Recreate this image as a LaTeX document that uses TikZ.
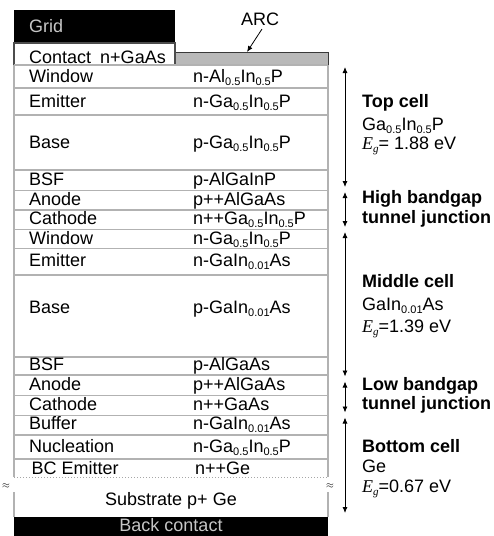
\documentclass[tikz,border=0pt]{standalone}
\usepackage{fontspec}
\setmainfont{Liberation Sans}
\newfontfamily\egfont{Liberation Serif}
\usetikzlibrary{arrows.meta}

% subscript in the running sans font
\newcommand\sbs[1]{\raisebox{-3.2pt}{\fontsize{11}{11}\selectfont #1}}
% band-gap symbol, serif italic E with subscript g
\newcommand\Eg{{\egfont\itshape E\raisebox{-3.2pt}{\fontsize{11}{11}\selectfont g}}}

\begin{document}
\begin{tikzpicture}[x=1pt,y=-1pt,
  rule/.style={draw=gray!60, line width=1.3pt},
  txt/.style={anchor=base west, inner sep=0pt, font=\fontsize{18}{18}\selectfont},
  ctxt/.style={anchor=base, inner sep=0pt, font=\fontsize{18}{18}\selectfont},
  head/.style={txt, font=\fontsize{18}{18}\selectfont\bfseries},
  span/.style={{Latex[length=6pt,width=5pt]}-{Latex[length=6pt,width=5pt]}, line width=0.8pt},
]
\useasboundingbox (0,0) rectangle (494,536);

% ---- front grid, contact and anti-reflection coating
\fill[black] (14,10) rectangle (175,43);
\fill[gray!55] (175,52) rectangle (328,65);
\draw[gray!45!black, line width=1pt] (175,65) -- (175,52) -- (328,52) -- (328,65);
\draw[gray!60!black, line width=1.1pt] (14,65) -- (14,43) -- (175,43) -- (175,65);

% ---- epitaxial layer boundaries
\foreach \y in {65,88,115,170,190.5,210,229.5,248.5,275,357,375,395.5,415.5,435,459}
  \draw[rule] (14,\y) -- (328,\y);
\draw[gray!70, line width=1pt, dotted] (14,477) -- (328,477);
\draw[rule] (14,65) -- (14,477);
\draw[rule] (328,65) -- (328,477);
\draw[rule] (14,492) -- (14,517);
\draw[rule] (328,492) -- (328,517);
\fill[black] (14,517) rectangle (328,536);

% ---- break marks on the substrate
\node[inner sep=0pt, font=\fontsize{10}{10}\selectfont] (brkL) at (6,486) {$\approx$};
\node[inner sep=0pt, font=\fontsize{10}{10}\selectfont] (brkR) at (330,486) {$\approx$};

% ---- texts on the grid and contact
\node[txt, text=gray!45] (grid) at (29,32) {Grid};
\node[txt] (contact) at (29,63) {Contact\hspace{9pt}n+GaAs};
\node[ctxt] (arc) at (260,25) {ARC};
\coordinate (arctip) at (247,52);
\draw[-{Latex[length=6pt,width=5pt]}, line width=0.8pt] (262,29) -- (arctip);

% ---- layer names
\node[txt] (l1) at (29,82) {Window};
\node[txt] (l2) at (29,107) {Emitter};
\node[txt] (l3) at (29,148) {Base};
\node[txt] (l4) at (29,185) {BSF};
\node[txt] (l5) at (29,205) {Anode};
\node[txt] (l6) at (29,224.5) {Cathode};
\node[txt] (l7) at (29,244) {Window};
\node[txt] (l8) at (29,266) {Emitter};
\node[txt] (l9) at (29,313) {Base};
\node[txt] (l10) at (29,370.5) {BSF};
\node[txt] (l11) at (29,390.5) {Anode};
\node[txt] (l12) at (29,410) {Cathode};
\node[txt] (l13) at (29,429.5) {Buffer};
\node[txt] (l14) at (29,452) {Nucleation};
\node[txt] (l15) at (31.5,474) {BC Emitter};
\node[ctxt] (sub) at (171,505) {Substrate p+ Ge};
\node[ctxt, text=gray!45] (back) at (171,531.5) {Back contact};

% ---- layer materials
\node[txt] (m1) at (193,82) {n-Al\sbs{0.5}In\sbs{0.5}P};
\node[txt] (m2) at (193,107) {n-Ga\sbs{0.5}In\sbs{0.5}P};
\node[txt] (m3) at (193,148) {p-Ga\sbs{0.5}In\sbs{0.5}P};
\node[txt] (m4) at (193,185) {p-AlGaInP};
\node[txt] (m5) at (193,205) {p++AlGaAs};
\node[txt] (m6) at (193,224.5) {n++Ga\sbs{0.5}In\sbs{0.5}P};
\node[txt] (m7) at (193,244) {n-Ga\sbs{0.5}In\sbs{0.5}P};
\node[txt] (m8) at (193,266) {n-GaIn\sbs{0.01}As};
\node[txt] (m9) at (193,313) {p-GaIn\sbs{0.01}As};
\node[txt] (m10) at (193,370.5) {p-AlGaAs};
\node[txt] (m11) at (193,390.5) {p++AlGaAs};
\node[txt] (m12) at (193,410) {n++GaAs};
\node[txt] (m13) at (193,429.5) {n-GaIn\sbs{0.01}As};
\node[txt] (m14) at (193,452) {n-Ga\sbs{0.5}In\sbs{0.5}P};
\node[txt] (m15) at (195,474) {n++Ge};

% ---- extent brackets of the sub-cells
\coordinate (a0) at (345,67);
\coordinate (a1) at (345,187);
\coordinate (b0) at (345,192);
\coordinate (b1) at (345,227);
\coordinate (c0) at (345,232);
\coordinate (c1) at (345,376.5);
\coordinate (d0) at (345,381.5);
\coordinate (d1) at (345,412.5);
\coordinate (e0) at (345,417.5);
\coordinate (e1) at (345,513);
\draw[span] (a0) -- (a1);
\draw[span] (b0) -- (b1);
\draw[span] (c0) -- (c1);
\draw[span] (d0) -- (d1);
\draw[span] (e0) -- (e1);

% ---- sub-cell descriptions
\node[head] (top) at (362,107) {Top cell};
\node[txt] (topm) at (362,130) {Ga\sbs{0.5}In\sbs{0.5}P};
\node[txt] (topg) at (362,149.5) {\Eg= 1.88 eV};
\node[head] (hbg1) at (362,203.5) {High bandgap};
\node[head] (hbg2) at (362,223.5) {tunnel junction};
\node[head] (mid) at (362,287) {Middle cell};
\node[txt] (midm) at (362,310) {GaIn\sbs{0.01}As};
\node[txt] (midg) at (362,332) {\Eg=1.39 eV};
\node[head] (lbg1) at (362,390) {Low bandgap};
\node[head] (lbg2) at (362,409) {tunnel junction};
\node[head] (bot) at (362,452) {Bottom cell};
\node[txt] (botm) at (362,472) {Ge};
\node[txt] (botg) at (362,492) {\Eg=0.67 eV};
\end{tikzpicture}
\end{document}
